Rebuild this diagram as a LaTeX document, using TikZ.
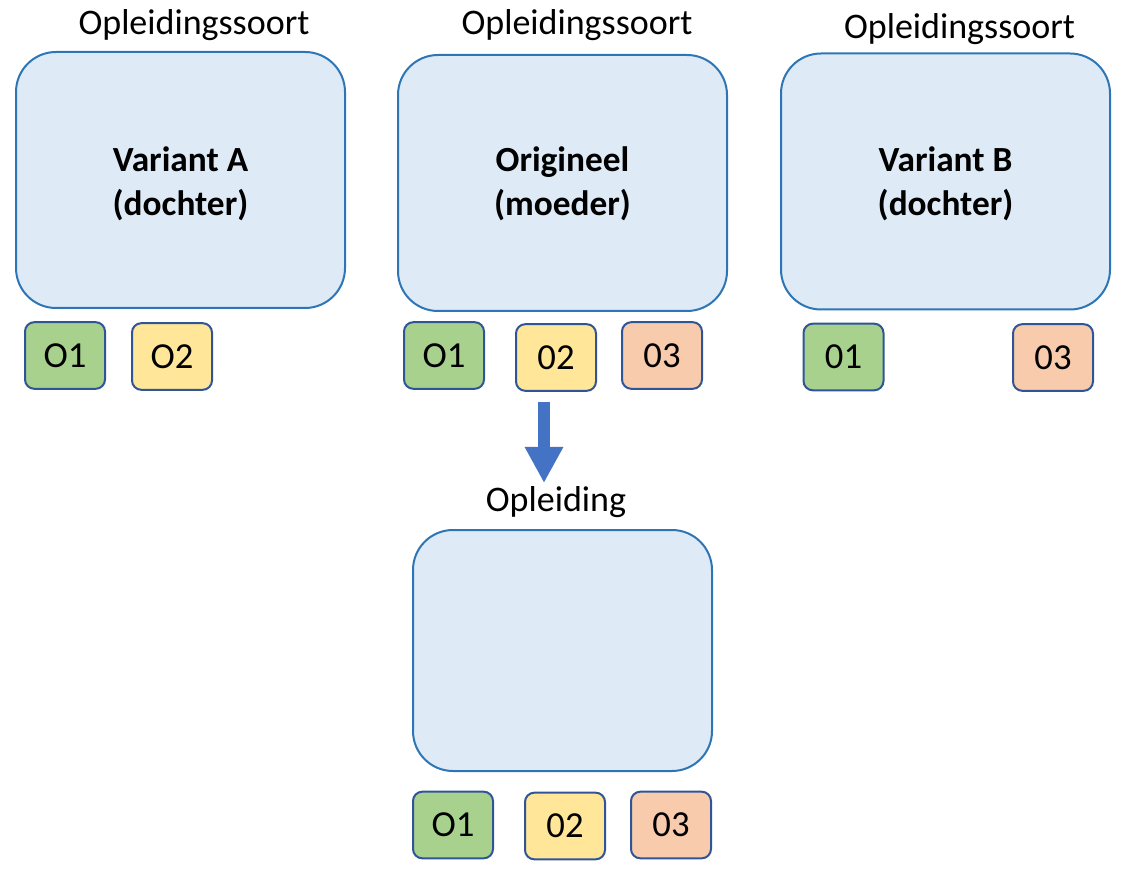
\documentclass[tikz,border=0pt]{standalone}
\usepackage{fontspec}
\setmainfont{Carlito}
\usetikzlibrary{arrows.meta}
\definecolor{boxfill}{HTML}{DEEBF7}
\definecolor{boxline}{HTML}{2E75B6}
\definecolor{tagline}{HTML}{2F5597}
\definecolor{tgreen}{HTML}{A9D18E}
\definecolor{tyellow}{HTML}{FFE699}
\definecolor{torange}{HTML}{F8CBAD}
\definecolor{arrowblue}{HTML}{4472C4}
\begin{document}
\begin{tikzpicture}[x=0.75pt,y=-0.75pt,
  big/.style={draw=boxline, fill=boxfill, line width=1.5pt, rounded corners=30pt,
    minimum width=246.75pt, minimum height=192pt, inner sep=0pt, align=center,
    font=\fontsize{26.5}{33}\selectfont\bfseries},
  tag/.style={draw=tagline, line width=1.5pt, rounded corners=7pt,
    minimum width=60pt, minimum height=50pt, inner sep=0pt,
    font=\fontsize{27.5}{30}\selectfont},
  title/.style={anchor=base, inner sep=0pt, font=\fontsize{27}{32}\selectfont},
  blockarrow/.style={draw=arrowblue, line width=9pt, -{Triangle[width=27pt,length=27pt]}}]
\useasboundingbox (0,0) rectangle (1121,880);

% titles
\node[title] (tA) at (194,35) {Opleidingssoort};
\node[title] (tO) at (577,35) {Opleidingssoort};
\node[title] (tB) at (959.5,39) {Opleidingssoort};
\node[title] (tL) at (556,511) {Opleiding};

% big boxes
\node[big] (A) at (180.5,180) {};
\node[big] (O) at (562.5,183) {};
\node[big] (B) at (945.5,181.5) {};
\node[big, minimum width=224.25pt, minimum height=180.75pt] (L) at (562.5,650.5) {};
\node[align=center, font=\fontsize{26.5}{33}\selectfont\bfseries] (Atext) at ([yshift=-2.5pt]A.center) {Variant A\\(dochter)};
\node[align=center, font=\fontsize{26.5}{33}\selectfont\bfseries] (Otext) at ([yshift=-0.5pt]O.center) {Origineel\\(moeder)};
\node[align=center, font=\fontsize{26.5}{33}\selectfont\bfseries] (Btext) at ([yshift=-1.5pt]B.center) {Variant B\\(dochter)};

% tags Variant A
\node[tag, fill=tgreen] (a1) at (65,355.5) {O1};
\node[tag, fill=tyellow] (a2) at (172,356.5) {O2};
% tags Origineel
\node[tag, fill=tgreen] (o1) at (444,355.5) {O1};
\node[tag, fill=tyellow] (o2) at (556,357.5) {02};
\node[tag, fill=torange] (o3) at (662,355.5) {03};
% tags Variant B
\node[tag, fill=tgreen] (b1) at (843.5,357) {01};
\node[tag, fill=torange] (b3) at (1053,357.5) {03};
% tags Opleiding
\node[tag, fill=tgreen] (l1) at (453,825) {O1};
\node[tag, fill=tyellow] (l2) at (565,826) {02};
\node[tag, fill=torange] (l3) at (671,825) {03};

% arrow
\coordinate (as) at (544,402);
\coordinate (ae) at (544,483);
\draw[blockarrow] (as) -- (ae);
\end{tikzpicture}
\end{document}
